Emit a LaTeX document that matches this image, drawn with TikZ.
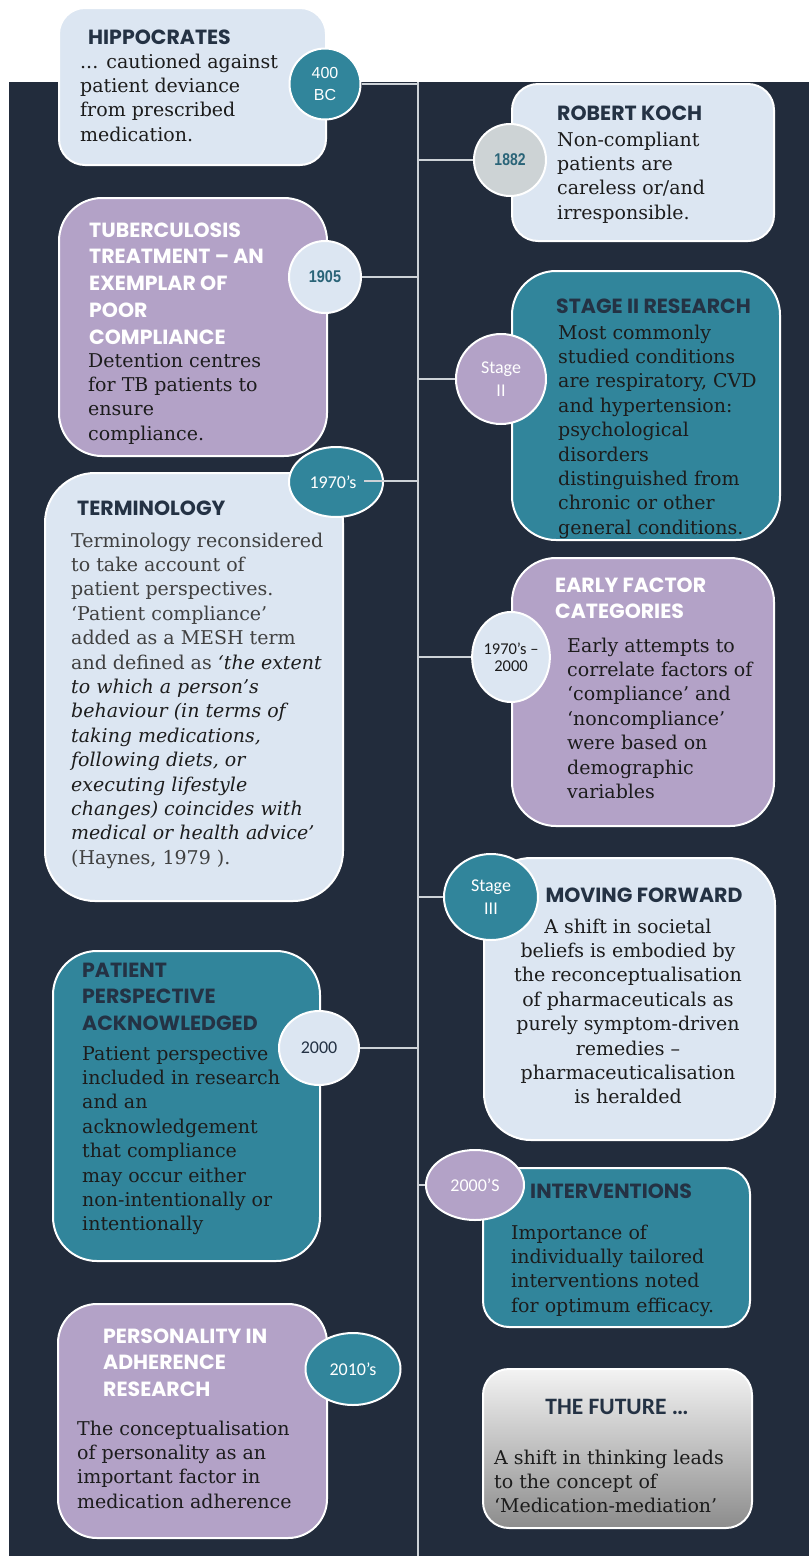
\documentclass[tikz,border=0pt]{standalone}
\usepackage{fontspec}
\setmainfont{DejaVu Serif}
\newfontfamily\headfont{Poppins}
\newfontfamily\calfont{Carlito}
\newfontfamily\arialfont{Liberation Sans}
\usetikzlibrary{shapes.geometric}

\definecolor{bgnavy}{RGB}{34,44,60}
\definecolor{paleblue}{RGB}{220,230,242}
\definecolor{lilac}{RGB}{179,162,199}
\definecolor{tealbox}{RGB}{49,133,155}
\definecolor{ink}{RGB}{28,28,28}
\definecolor{softink}{RGB}{64,64,64}
\definecolor{headink}{RGB}{36,50,68}
\definecolor{spinegrey}{RGB}{205,210,215}
\definecolor{greydisc}{RGB}{205,211,213}
\definecolor{yearteal}{RGB}{42,100,120}
\definecolor{futuretop}{RGB}{243,243,243}
\definecolor{futurebot}{RGB}{140,140,140}

% multi-line texts are placed by the baseline of their LAST line
\tikzset{
  card/.style n args={3}{draw=white, line width=2pt, anchor=north west, inner sep=0pt,
    minimum width=#1, minimum height=#2, rounded corners=#3},
  disc/.style={ellipse, draw=white, line width=2pt, inner sep=0pt, align=center},
  head/.style={font=\headfont\bfseries\fontsize{20.5}{26.8}\selectfont, anchor=base west,
    inner sep=0pt, align=left},
  body/.style={font=\fontsize{19}{24.4}\selectfont, text=ink, anchor=base west,
    inner sep=0pt, align=left},
  disctext/.style={font=\calfont\fontsize{18}{23}\selectfont},
  link/.style={draw=spinegrey, line width=1.8pt},
}

\begin{document}
\begin{tikzpicture}[x=1pt, y=-1pt]
\useasboundingbox (0,0) rectangle (809,1556);
\fill[white] (0,0) rectangle (809,1556);
\fill[bgnavy] (9,82) rectangle (809,1556);

% central time line
\coordinate (spinetop) at (418,82);
\coordinate (spinebot) at (418,1556);
\draw[link] (spinetop) -- (spinebot);

% ---- cards ----
\node[card={267}{157}{26}, fill=paleblue] (hip) at (58,7) {};
\node[card={262}{157}{26}, fill=paleblue] (koch) at (511,83) {};
\node[card={268}{258}{43}, fill=lilac] (tb) at (58,197) {};
\node[card={268}{269}{44}, fill=tealbox] (stagetwo) at (511,270) {};
\node[card={298}{428}{50}, fill=paleblue] (term) at (44,472) {};
\node[card={262}{268}{44}, fill=lilac] (early) at (511,557) {};
\node[card={291}{282}{47}, fill=paleblue] (moving) at (483,857) {};
\node[card={267}{310}{44}, fill=tealbox] (persp) at (52,950) {};
\node[card={267}{159}{26}, fill=tealbox] (interv) at (482,1167) {};
\node[card={269}{234}{39}, fill=lilac] (person) at (57,1303) {};
\node[card={269}{159}{26}, top color=futuretop, bottom color=futurebot, draw=white] (future) at (482,1368) {};

% ---- card texts ----
\node[head, text=headink] (hiphead) at (88,44) {HIPPOCRATES};
\node[body] (hipbody) at (80,141.2) {... cautioned against\\patient deviance\\from prescribed\\medication.};

\node[head, text=headink] (kochhead) at (557,120) {ROBERT KOCH};
\node[body] (kochbody) at (557,219.2) {Non-compliant\\patients are\\careless or/and\\irresponsible.};

\node[head, text=white] (tbhead) at (89,344.2) {TUBERCULOSIS\\TREATMENT – AN\\EXEMPLAR OF\\POOR\\COMPLIANCE};
\node[body] (tbbody) at (88,440.2) {Detention centres\\for TB patients to\\ensure\\compliance.};

\node[head, text=headink] (sthead) at (556,313) {STAGE II RESEARCH};
\node[body] (stbody) at (558,534.2) {Most commonly\\studied conditions\\are respiratory, CVD\\and hypertension:\\psychological\\disorders\\distinguished from\\chronic or other\\general conditions.};

\node[head, text=headink] (termhead) at (77,515) {TERMINOLOGY};
\node[body, text=softink] (termbody) at (71,864.2) {Terminology reconsidered\\to take account of\\patient perspectives.\\‘Patient compliance’\\added as a MESH term\\and defined as \textcolor{ink}{\itshape ‘the extent}\\\textcolor{ink}{\itshape to which a person’s}\\\textcolor{ink}{\itshape behaviour (in terms of}\\\textcolor{ink}{\itshape taking medications,}\\\textcolor{ink}{\itshape following diets, or}\\\textcolor{ink}{\itshape executing lifestyle}\\\textcolor{ink}{\itshape changes) coincides with}\\\textcolor{ink}{\itshape medical or health advice’}\\(Haynes, 1979 ).};

\node[head, text=white] (earlyhead) at (555,618.8) {EARLY FACTOR\\CATEGORIES};
\node[body] (earlybody) at (567,798.4) {Early attempts to\\correlate factors of\\‘compliance’ and\\‘noncompliance’\\were based on\\demographic\\variables};

\node[head, text=headink, anchor=base, align=center] (movhead) at (644,902) {MOVING FORWARD};
\node[body, anchor=base, align=center] (movbody) at (628,1103.8) {A shift in societal\\beliefs is embodied by\\the reconceptualisation\\of pharmaceuticals as\\purely symptom-driven\\remedies –\\pharmaceuticalisation\\is heralded};

\node[head, text=headink] (pershead) at (82,1030.6) {PATIENT\\PERSPECTIVE\\ACKNOWLEDGED};
\node[body] (persbody) at (82,1230.8) {Patient perspective\\included in research\\and an\\acknowledgement\\that compliance\\may occur either\\non-intentionally or\\intentionally};

\node[head, text=headink] (intvhead) at (530,1198) {INTERVENTIONS};
\node[body] (intvbody) at (511,1312.2) {Importance of\\individually tailored\\interventions noted\\for optimum efficacy.};

\node[head, text=white] (perhead) at (103,1396.6) {PERSONALITY IN\\ADHERENCE\\RESEARCH};
\node[body] (perbody) at (77,1508.2) {The conceptualisation\\of personality as an\\important factor in\\medication adherence};

\node[font=\calfont\bfseries\fontsize{23.5}{28}\selectfont, text=headink, anchor=base, inner sep=0pt] (futhead) at (617,1414) {THE FUTURE …};
\node[body] (futbody) at (494,1512.8) {A shift in thinking leads\\to the concept of\\‘Medication-mediation’};

% ---- date discs ----
\node[disc, fill=tealbox, minimum width=71, minimum height=71, text=white,
  font=\arialfont\fontsize{16}{21.5}\selectfont] (d400) at (325,84) {400\\BC};
\node[disc, fill=greydisc, minimum width=72, minimum height=72, text=yearteal,
  font=\arialfont\bfseries\fontsize{17}{20}\selectfont] (d1882) at (510,160) {\scalebox{0.82}[1]{1882}};
\node[disc, fill=paleblue, minimum width=72, minimum height=72, text=yearteal,
  font=\arialfont\bfseries\fontsize{17}{20}\selectfont] (d1905) at (325,277) {\scalebox{0.85}[1]{1905}};
\node[disc, disctext, fill=lilac, minimum width=90, minimum height=90, text=white] (dstagetwo) at (501,379) {Stage\\II};
\node[disc, disctext, fill=tealbox, minimum width=94, minimum height=70, text=white] (d1970) at (336,482) {1970’s\hspace*{6pt}};
\node[disc, fill=paleblue, minimum width=74, minimum height=90, text=ink,
  font=\calfont\fontsize{16.5}{17.5}\selectfont] (d7000) at (511,657) {1970’s –\\2000};
\node[disc, disctext, fill=tealbox, minimum width=94, minimum height=86, text=white] (dstagethree) at (491,897) {Stage\\III};
\node[disc, disctext, fill=paleblue, minimum width=80, minimum height=74, text=headink] (d2000) at (319,1048) {2000};
\node[disc, disctext, fill=lilac, minimum width=98, minimum height=70, text=white] (d2000s) at (475,1185) {2000’S};
\node[disc, disctext, fill=tealbox, minimum width=95, minimum height=72, text=white] (d2010) at (353,1369) {2010’s};

% ---- connectors to the time line ----
\coordinate (tail1970) at (364,481);
\draw[link] (d400.east) -- (d400.east -| spinetop);
\draw[link] (d1882.west) -- (d1882.west -| spinetop);
\draw[link] (d1905.east) -- (d1905.east -| spinetop);
\draw[link] (dstagetwo.west) -- (dstagetwo.west -| spinetop);
\draw[link] (tail1970) -- (tail1970 -| spinetop);
\draw[link] (d7000.west) -- (d7000.west -| spinetop);
\draw[link] (dstagethree.west) -- (dstagethree.west -| spinetop);
\draw[link] (d2000.east) -- (d2000.east -| spinetop);
\draw[link] (d2000s.west) -- (d2000s.west -| spinetop);
\end{tikzpicture}
\end{document}
